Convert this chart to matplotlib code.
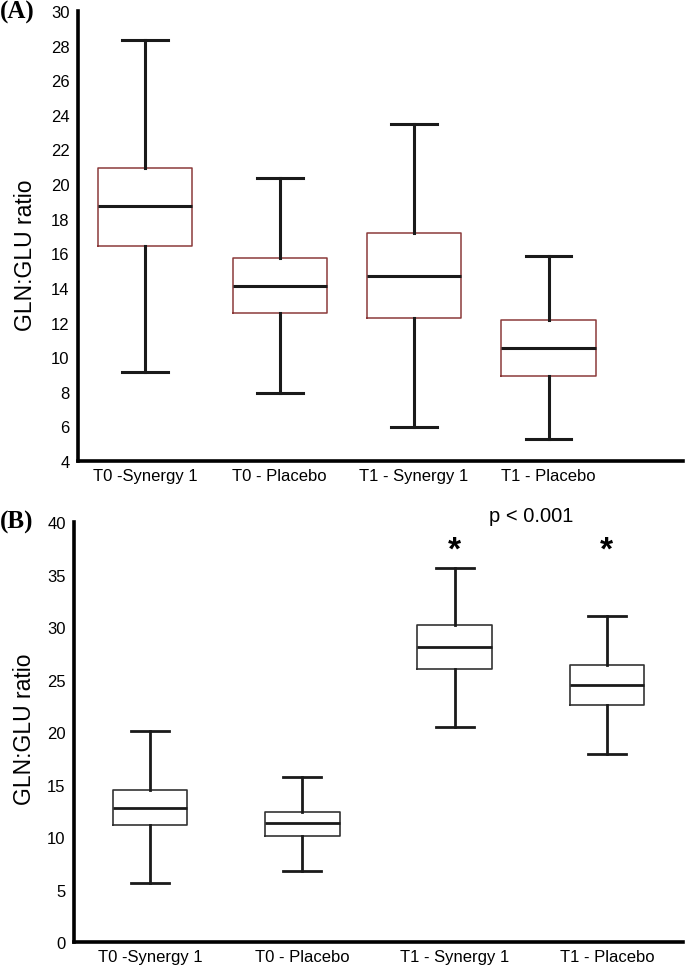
import matplotlib
matplotlib.use("Agg")
from matplotlib import pyplot as plt

plt.rcParams['font.family'] = ['Liberation Sans', 'DejaVu Sans']

groups = ["T0 -Synergy 1", "T0 - Placebo", "T1 - Synergy 1", "T1 - Placebo"]

# panel A: whisker low, Q1, median, Q3, whisker high
a_low = [9.14, 7.91, 5.97, 5.27]
a_q1 = [16.43, 12.54, 12.27, 8.91]
a_med = [18.72, 14.13, 14.69, 10.53]
a_q3 = [20.94, 15.73, 17.16, 12.15]
a_high = [28.33, 20.38, 23.48, 15.87]

# panel B
b_low = [5.59, 6.79, 20.45, 17.9]
b_q1 = [11.11, 10.1, 26.0, 22.54]
b_med = [12.79, 11.3, 28.07, 24.45]
b_q3 = [14.5, 12.41, 30.2, 26.38]
b_high = [20.1, 15.74, 35.6, 31.08]

a_ticks = list(range(4, 31, 2))
b_ticks = list(range(0, 41, 5))
p_text = "p < 0.001"
signif = [False, False, True, True]


def make_stats(low, q1, med, q3, high):
    stats = []
    for i in range(len(groups)):
        stats.append(dict(label=groups[i], whislo=low[i], q1=q1[i], med=med[i],
                          q3=q3[i], whishi=high[i], fliers=[]))
    return stats


def style_axes(ax, label_x, label_y):
    for s in ["top", "right"]:
        ax.spines[s].set_visible(False)
    for s in ["left", "bottom"]:
        ax.spines[s].set_linewidth(2.6)
        ax.spines[s].set_color("black")
    ax.tick_params(axis="both", length=0, labelsize=12)
    ax.tick_params(axis="y", pad=6)
    ax.tick_params(axis="x", pad=5)
    ax.set_ylabel("GLN:GLU ratio", fontsize=16.5)
    ax.yaxis.set_label_coords(label_x, label_y)


fig = plt.figure(figsize=(6.85, 9.7), dpi=100)

# panel A
axA = fig.add_axes([0.1139, 0.5237, 0.8831, 0.4639])
axA.bxp(make_stats(a_low, a_q1, a_med, a_q3, a_high), positions=[1, 2, 3, 4],
        widths=0.70, patch_artist=False, showfliers=False,
        boxprops=dict(color="#8b3a3a", linewidth=1.1),
        medianprops=dict(color="#1a1a1a", linewidth=2.2),
        whiskerprops=dict(color="#1a1a1a", linewidth=2.2),
        capprops=dict(color="#1a1a1a", linewidth=2.2), capwidths=0.34)
axA.set_xlim(0.5, 5.0)
axA.set_ylim(4, 30)
axA.set_yticks(a_ticks)
style_axes(axA, -0.068, 0.46)
fig.text(0.0, 0.9876, "(A)", family="Liberation Serif", fontweight="bold",
         fontsize=18, ha="left", va="center")

# panel B
axB = fig.add_axes([0.108, 0.0278, 0.889, 0.433])
axB.bxp(make_stats(b_low, b_q1, b_med, b_q3, b_high), positions=[1, 2, 3, 4],
        widths=0.49, patch_artist=False, showfliers=False,
        boxprops=dict(color="#333333", linewidth=1.2),
        medianprops=dict(color="#1a1a1a", linewidth=2.0),
        whiskerprops=dict(color="#1a1a1a", linewidth=2.0),
        capprops=dict(color="#1a1a1a", linewidth=2.0), capwidths=0.25)
axB.set_xlim(0.5, 4.5)
axB.set_ylim(0, 40)
axB.set_yticks(b_ticks)
style_axes(axB, -0.062, 0.51)
for i, s in enumerate(signif):
    if s:
        axB.text(i + 1, 37.3, "*", ha="center", va="center", fontsize=24,
                 fontweight="bold", clip_on=False)
axB.text(3.5, 40.6, p_text, ha="center", va="center", fontsize=14.5, clip_on=False)
fig.text(0.0, 1 - 522 / 970, "(B)", family="Liberation Serif", fontweight="bold",
         fontsize=18, ha="left", va="center")

fig.savefig("out.png", dpi=100)
